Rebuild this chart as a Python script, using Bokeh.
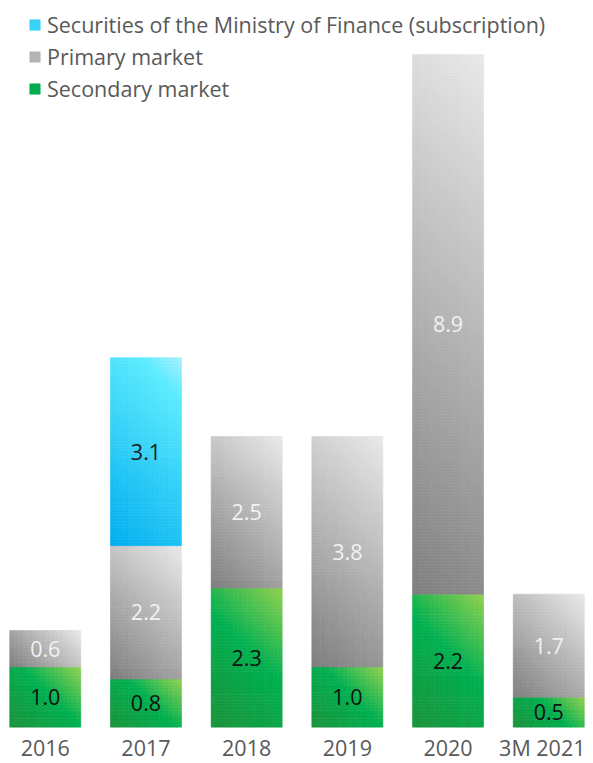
import math
from bokeh.plotting import figure
from bokeh.models import ColumnDataSource, FactorRange, Range1d, Legend, LegendItem
from bokeh.core.properties import value
from bokeh.embed import file_html
from bokeh.resources import INLINE

# ---- data ----
years = ["2016", "2017", "2018", "2019", "2020", "3M 2021"]
secondary = [1.0, 0.8, 2.3, 1.0, 2.2, 0.5]
primary = [0.6, 2.2, 2.5, 3.8, 8.9, 1.7]
ministry = [0.0, 3.1, 0.0, 0.0, 0.0, 0.0]

series_names = [
    "Secondary market",
    "Primary market",
    "Securities of the Ministry of Finance (subscription)",
]
series_values = [secondary, primary, ministry]

# ---- styling ----
FONT = "Open Sans"
FS = "21.5px"
FRAME_W, FRAME_H = 577, 719
Y_MAX = 11.86
BAR_W = 0.705
X_PAD = -0.135
PX_Y = FRAME_H / Y_MAX
PX_X = FRAME_W / (len(years) + 2 * X_PAD)

gradients = [
    [(0.0, "#93d150"), (0.45, "#00b050"), (1.0, "#1b923a")],   # secondary
    [(0.0, "#e9e9e9"), (1.0, "#7e7e7e")],                     # primary
    [(0.0, "#aaf0ff"), (0.15, "#5decff"), (1.0, "#00adef")],   # ministry
]
label_colors = ["#111111", "#f2f2f2", "#1a1a1a"]


def h2r(h):
    h = h.lstrip("#")
    return [int(h[i:i + 2], 16) for i in (0, 2, 4)]


def grad_color(stops, t):
    t = min(max(t, 0.0), 1.0)
    for (t0, c0), (t1, c1) in zip(stops[:-1], stops[1:]):
        if t <= t1:
            f = 0 if t1 == t0 else (t - t0) / (t1 - t0)
            a, b = h2r(c0), h2r(c1)
            return "#%02x%02x%02x" % tuple(round(a[k] + (b[k] - a[k]) * f) for k in range(3))
    return stops[-1][1]


p = figure(
    x_range=FactorRange(factors=years, range_padding=X_PAD, range_padding_units="absolute"),
    y_range=Range1d(0, Y_MAX),
    frame_width=FRAME_W, frame_height=FRAME_H,
    output_backend="svg", toolbar_location=None,
    min_border=0, min_border_left=8, min_border_top=8,
)
p.yaxis.visible = False
p.xgrid.visible = False
p.ygrid.visible = False
p.outline_line_color = None
p.background_fill_color = "white"
p.border_fill_color = "white"

xa = p.xaxis[0]
xa.axis_line_color = None
xa.major_tick_line_color = None
xa.minor_tick_line_color = None
xa.major_tick_out = 0
xa.major_tick_in = 0
xa.major_label_text_font = FONT
xa.major_label_text_font_size = FS
xa.major_label_text_color = "#595959"
xa.major_label_standoff = 5

renderers = []
legend_index = []
lab = dict(x=[], y=[], text=[], color=[])
bottoms = [0.0] * len(years)
NX = 16
for s, vals in enumerate(series_values):
    cells = dict(left=[], right=[], bottom=[], top=[], color=[])
    best = None
    for i, yr in enumerate(years):
        v = vals[i]
        if v <= 0:
            continue
        b0 = bottoms[i]
        w_px = BAR_W * PX_X
        h_px = v * PX_Y
        ny = max(3, int(math.ceil(h_px / 3.0)))
        for ix in range(NX):
            for iy in range(ny):
                fx = (ix + 0.5) / NX
                fy = (iy + 0.5) / ny
                t = ((1 - fx) * w_px + (1 - fy) * h_px) / (w_px + h_px)
                cells["left"].append((yr, -BAR_W / 2 + BAR_W * ix / NX))
                cells["right"].append((yr, -BAR_W / 2 + BAR_W * (ix + 1) / NX))
                cells["bottom"].append(b0 + v * iy / ny)
                cells["top"].append(b0 + v * (iy + 1) / ny)
                cells["color"].append(grad_color(gradients[s], t))
                if best is None or abs(t - 0.5) < best[0]:
                    best = (abs(t - 0.5), len(cells["color"]) - 1)
        lab["x"].append(yr)
        lab["y"].append(b0 + v / 2)
        lab["text"].append(f"{v:.1f}")
        lab["color"].append(label_colors[s])
        bottoms[i] = b0 + v
    src = ColumnDataSource(cells)
    r = p.quad(left="left", right="right", bottom="bottom", top="top", source=src,
               fill_color="color", line_color="color", line_width=0.6)
    renderers.append(r)
    legend_index.append(best[1])

p.text(x="x", y="y", text="text", source=ColumnDataSource(lab), text_color="color",
       text_font=value(FONT), text_font_size=FS, text_align="center",
       text_baseline="middle")

items = [LegendItem(label=series_names[s], renderers=[renderers[s]], index=legend_index[s])
         for s in (2, 1, 0)]
legend = Legend(items=items, location=(20, FRAME_H - 96), padding=0, margin=0,
                spacing=0, glyph_width=13, glyph_height=13, label_height=32,
                label_standoff=6, label_text_font=FONT, label_text_font_size=FS,
                label_text_color="#595959", border_line_color=None,
                background_fill_alpha=0)
p.add_layout(legend)

open("out.html", "w").write(file_html(p, INLINE))
